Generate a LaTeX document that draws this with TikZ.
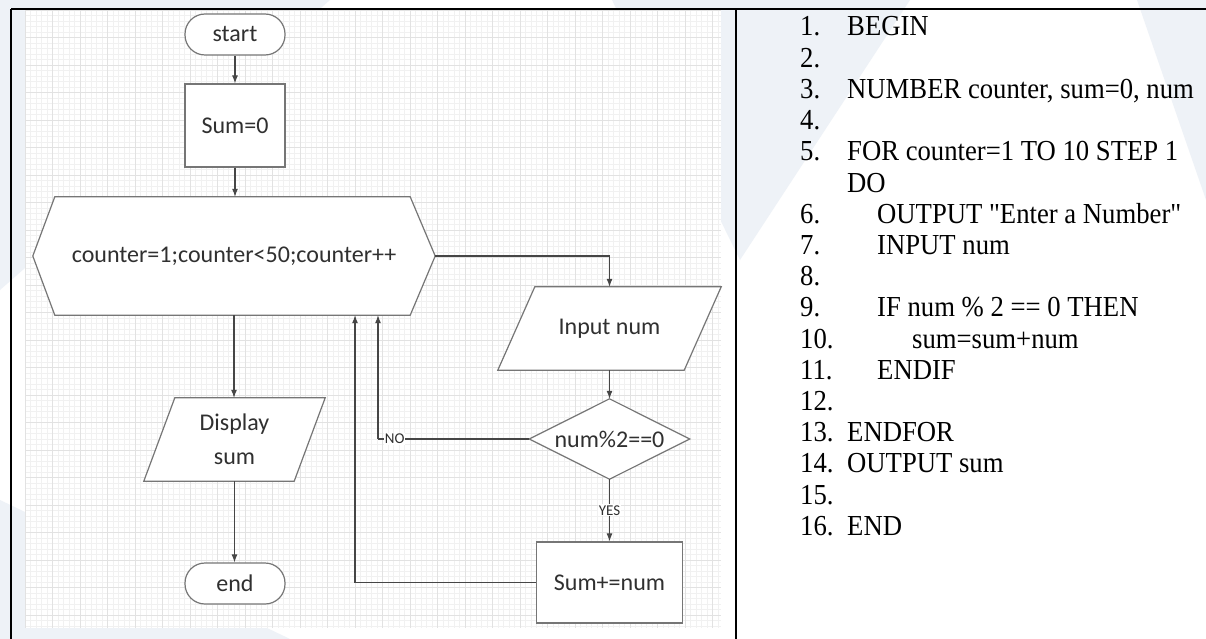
\documentclass[tikz,border=0pt]{standalone}
\usepackage{fontspec}
\newfontfamily\codefont{Liberation Serif}[FakeStretch=0.92]
\newfontfamily\flowfont{Carlito}
\usetikzlibrary{arrows.meta,calc}
\pgfdeclarelayer{bg}
\pgfdeclarelayer{shp}
\pgfsetlayers{bg,shp,main}
\definecolor{pale}{HTML}{EEF2F7}
\definecolor{gridminor}{HTML}{F1F1F1}
\definecolor{gridmajor}{HTML}{E2E2E2}
\definecolor{shapeline}{HTML}{767676}
\definecolor{conn}{HTML}{464646}
\definecolor{fltext}{HTML}{303030}
\begin{document}
\begin{tikzpicture}[x=1pt,y=-1pt,
  fnode/.style={font=\flowfont\fontsize{24}{34}\selectfont, text=fltext, inner sep=0pt, align=center},
  box/.style={fnode, draw=shapeline, line width=1.2pt, fill=white},
  term/.style={box, rounded corners=20pt},
  shpline/.style={draw=shapeline, line width=1.2pt, fill=white},
  cline/.style={draw=conn, line width=1.1pt},
  arr/.style={cline, -{Latex[length=8pt,width=6pt]}},
  lbl/.style={font=\flowfont\fontsize{15}{15}\selectfont, text=fltext, fill=white, inner sep=1pt},
  codenum/.style={anchor=base west, font=\codefont\fontsize{29}{31}\selectfont, inner sep=0pt},
  codetxt/.style={anchor=base west, font=\codefont\fontsize{29}{31}\selectfont, inner sep=0pt}
]
\useasboundingbox (0,0) rectangle (1206,639);

% ---------- background and grid ----------
\begin{pgfonlayer}{bg}
  \fill[white] (0,0) rectangle (1206,639);
  \fill[pale] (0,0) -- (330,0) -- (0,290) -- cycle;
  \fill[pale] (0,500) -- (290,639) -- (0,639) -- cycle;
  \fill[pale] (612,0) -- (910,0) -- (740,260) -- cycle;
  \fill[pale] (1137,0) -- (1206,0) -- (1206,200) -- cycle;
  \fill[white] (25,10) rectangle (721,628);
  \foreach \i in {0,...,126} {
    \draw[gridminor, line width=0.5pt] ({25+5.5*\i},10) -- ({25+5.5*\i},628);
  }
  \foreach \j in {0,...,112} {
    \draw[gridminor, line width=0.5pt] (25,{10+5.5*\j}) -- (721,{10+5.5*\j});
  }
  \foreach \i in {0,...,25} {
    \draw[gridmajor, line width=0.6pt] ({25+27.5*\i},10) -- ({25+27.5*\i},628);
  }
  \foreach \j in {0,...,22} {
    \draw[gridmajor, line width=0.6pt] (25,{10+27.5*\j}) -- (721,{10+27.5*\j});
  }
\end{pgfonlayer}

% ---------- flowchart nodes ----------
\node[term, minimum width=100pt, minimum height=41pt] (start) at (235,34.5) {start};
\node[box, minimum width=100pt, minimum height=83pt] (sum0) at (235,125.5) {Sum=0};
\node[fnode, minimum width=402pt, minimum height=118pt] (loop) at (234,256) {counter=1;counter<50;counter++};
\node[fnode, minimum width=223pt, minimum height=83pt] (inp) at (609.5,328.5) {Input num};
\node[fnode, minimum width=160pt, minimum height=80pt] (dec) at (609.5,439) {num\%2==0};
\node[box, minimum width=146pt, minimum height=81pt] (add) at (609.5,582.5) {Sum+=num};
\node[fnode, minimum width=181pt, minimum height=83pt] (disp) at (234.5,439.5) {Display\\sum};
\node[term, minimum width=100pt, minimum height=41pt] (end) at (235,583.5) {end};

\begin{pgfonlayer}{shp}
  \draw[shpline] ($(loop.north west)+(22,0)$) -- ($(loop.north east)+(-25,0)$) -- (loop.east)
     -- ($(loop.south east)+(-25,0)$) -- ($(loop.south west)+(22,0)$) -- (loop.west) -- cycle;
  \draw[shpline] ($(inp.north west)+(37,0)$) -- (inp.north east) -- ($(inp.south east)+(-37,0)$)
     -- (inp.south west) -- cycle;
  \draw[shpline] ($(disp.north west)+(31,0)$) -- (disp.north east) -- ($(disp.south east)+(-31,0)$)
     -- (disp.south west) -- cycle;
  \draw[shpline] (dec.north) -- (dec.east) -- (dec.south) -- (dec.west) -- cycle;
\end{pgfonlayer}

% ---------- connectors ----------
\draw[arr] (start.south) -- (sum0.north);
\draw[arr] (sum0.south) -- (sum0.south |- loop.north);
\draw[arr] (loop.east) -| (inp.north);
\draw[arr] (inp.south) -- (dec.north);
\draw[arr] (dec.south) -- node[lbl, pos=0.5] {YES} (add.north);
\coordinate (nocorner) at (378,439);
\draw[cline] (dec.west) -- node[lbl, pos=0.89] {NO} (nocorner);
\draw[arr] (nocorner) -- (nocorner |- loop.south);
\coordinate (backcorner) at (355,582.5);
\draw[cline] (add.west) -- (backcorner);
\draw[arr] (backcorner) -- (backcorner |- loop.south);
\draw[arr] (loop.south) -- (loop.south |- disp.north);
\draw[arr] (disp.south) -- (disp.south |- end.north);

% ---------- table lines ----------
\draw[black, line width=2pt] (11,9) -- (1206,9);
\draw[black, line width=2pt] (11,9) -- (11,639);
\draw[black, line width=2pt] (735.5,9) -- (735.5,639);

% ---------- pseudocode ----------
\node[codenum] (n1) at (800,36) {1.};
\node[codetxt] (t1) at (847,36) {BEGIN};
\node[codenum] (n2) at (800,67.2) {2.};
\node[codenum] (n3) at (800,98.4) {3.};
\node[codetxt] (t3) at (847,98.4) {NUMBER counter, sum=0, num};
\node[codenum] (n4) at (800,129.6) {4.};
\node[codenum] (n5) at (800,160.8) {5.};
\node[codetxt] (t5) at (847,160.8) {FOR counter=1 TO 10 STEP 1};
\node[codetxt] (t5b) at (847,192) {DO};
\node[codenum] (n6) at (800,223.2) {6.};
\node[codetxt] (t6) at (877,223.2) {OUTPUT "Enter a Number"};
\node[codenum] (n7) at (800,254.4) {7.};
\node[codetxt] (t7) at (877,254.4) {INPUT num};
\node[codenum] (n8) at (800,285.6) {8.};
\node[codenum] (n9) at (800,316.8) {9.};
\node[codetxt] (t9) at (877,316.8) {IF num \% 2 == 0 THEN};
\node[codenum] (n10) at (800,348) {10.};
\node[codetxt] (t10) at (912,348) {sum=sum+num};
\node[codenum] (n11) at (800,379.2) {11.};
\node[codetxt] (t11) at (877,379.2) {ENDIF};
\node[codenum] (n12) at (800,410.4) {12.};
\node[codenum] (n13) at (800,441.6) {13.};
\node[codetxt] (t13) at (847,441.6) {ENDFOR};
\node[codenum] (n14) at (800,472.8) {14.};
\node[codetxt] (t14) at (847,472.8) {OUTPUT sum};
\node[codenum] (n15) at (800,504) {15.};
\node[codenum] (n16) at (800,535.2) {16.};
\node[codetxt] (t16) at (847,535.2) {END};
\end{tikzpicture}
\end{document}
